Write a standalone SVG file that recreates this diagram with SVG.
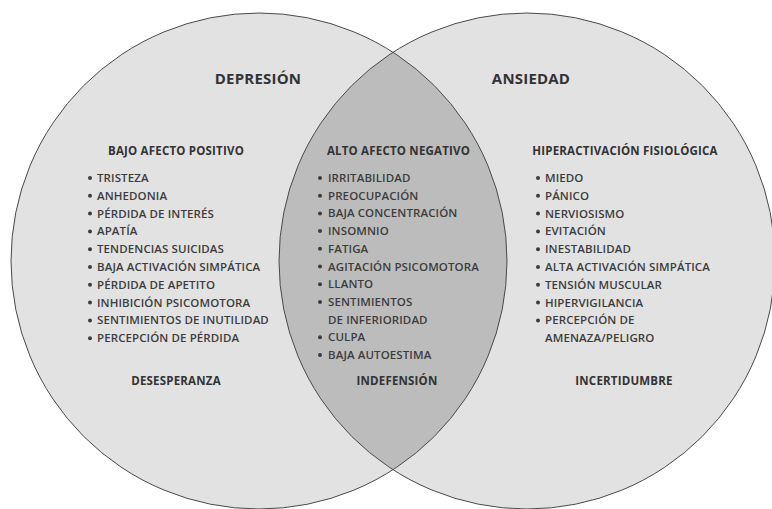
<svg xmlns="http://www.w3.org/2000/svg" width="772" height="509" viewBox="0 0 772 509">
<style>
.circ{fill:#e2e2e2;stroke:none}
.lens{fill:#bcbcbc;stroke:none}
.edge{fill:none;stroke:#4a4a4a;stroke-width:1}
text{font-family:"Open Sans","Noto Sans",sans-serif;fill:#333}
.t{font-size:15px;font-weight:700;letter-spacing:0.2px}
.h{font-size:11.5px;font-weight:700;letter-spacing:0.2px}
.i{font-size:11.5px;font-weight:600;fill:#3c3c3c;letter-spacing:0.1px}
.b{fill:#3c3c3c}
</style>
<g id="circles">
<circle class="circ" cx="259" cy="261" r="248"/>
<circle class="circ" cx="527" cy="261" r="248"/>
<path class="lens" d="M393 52.3 A248 248 0 0 1 393 469.7 A248 248 0 0 1 393 52.3 Z"/>
<circle class="edge" cx="259" cy="261" r="248"/>
<circle class="edge" cx="527" cy="261" r="248"/>
</g>
<g id="depresion">
<text class="t" x="258" y="83.5" text-anchor="middle">DEPRESIÓN</text>
<text class="h" x="176" y="155" text-anchor="middle">BAJO AFECTO POSITIVO</text>
<g class="b"><circle cx="90" cy="178" r="2"/><circle cx="90" cy="195.8" r="2"/><circle cx="90" cy="213.6" r="2"/><circle cx="90" cy="231.4" r="2"/><circle cx="90" cy="249.2" r="2"/><circle cx="90" cy="267" r="2"/><circle cx="90" cy="284.8" r="2"/><circle cx="90" cy="302.6" r="2"/><circle cx="90" cy="320.4" r="2"/><circle cx="90" cy="338.2" r="2"/></g>
<text class="i" x="97" y="182">TRISTEZA</text>
<text class="i" x="97" y="199.8">ANHEDONIA</text>
<text class="i" x="97" y="217.6">PÉRDIDA DE INTERÉS</text>
<text class="i" x="97" y="235.4">APATÍA</text>
<text class="i" x="97" y="253.2">TENDENCIAS SUICIDAS</text>
<text class="i" x="97" y="271">BAJA ACTIVACIÓN SIMPÁTICA</text>
<text class="i" x="97" y="288.8">PÉRDIDA DE APETITO</text>
<text class="i" x="97" y="306.6">INHIBICIÓN PSICOMOTORA</text>
<text class="i" x="97" y="324.4">SENTIMIENTOS DE INUTILIDAD</text>
<text class="i" x="97" y="342.2">PERCEPCIÓN DE PÉRDIDA</text>
<text class="h" x="176" y="385" text-anchor="middle">DESESPERANZA</text>
</g>
<g id="comun">
<text class="h" x="398.5" y="155" text-anchor="middle">ALTO AFECTO NEGATIVO</text>
<g class="b"><circle cx="320" cy="178" r="2"/><circle cx="320" cy="195.7" r="2"/><circle cx="320" cy="213.4" r="2"/><circle cx="320" cy="231.1" r="2"/><circle cx="320" cy="248.8" r="2"/><circle cx="320" cy="266.5" r="2"/><circle cx="320" cy="284.2" r="2"/><circle cx="320" cy="301.9" r="2"/><circle cx="320" cy="337.3" r="2"/><circle cx="320" cy="355" r="2"/></g>
<text class="i" x="328" y="182">IRRITABILIDAD</text>
<text class="i" x="328" y="199.7">PREOCUPACIÓN</text>
<text class="i" x="328" y="217.4">BAJA CONCENTRACIÓN</text>
<text class="i" x="328" y="235.1">INSOMNIO</text>
<text class="i" x="328" y="252.8">FATIGA</text>
<text class="i" x="328" y="270.5">AGITACIÓN PSICOMOTORA</text>
<text class="i" x="328" y="288.2">LLANTO</text>
<text class="i" x="328" y="305.9">SENTIMIENTOS</text>
<text class="i" x="328" y="323.6">DE INFERIORIDAD</text>
<text class="i" x="328" y="341.3">CULPA</text>
<text class="i" x="328" y="359">BAJA AUTOESTIMA</text>
<text class="h" x="397" y="385" text-anchor="middle">INDEFENSIÓN</text>
</g>
<g id="ansiedad">
<text class="t" x="531" y="83.5" text-anchor="middle">ANSIEDAD</text>
<text class="h" x="625" y="155" text-anchor="middle">HIPERACTIVACIÓN FISIOLÓGICA</text>
<g class="b"><circle cx="538" cy="178" r="2"/><circle cx="538" cy="195.8" r="2"/><circle cx="538" cy="213.6" r="2"/><circle cx="538" cy="231.4" r="2"/><circle cx="538" cy="249.2" r="2"/><circle cx="538" cy="267" r="2"/><circle cx="538" cy="284.8" r="2"/><circle cx="538" cy="302.6" r="2"/><circle cx="538" cy="320.4" r="2"/></g>
<text class="i" x="545" y="182">MIEDO</text>
<text class="i" x="545" y="199.8">PÁNICO</text>
<text class="i" x="545" y="217.6">NERVIOSISMO</text>
<text class="i" x="545" y="235.4">EVITACIÓN</text>
<text class="i" x="545" y="253.2">INESTABILIDAD</text>
<text class="i" x="545" y="271">ALTA ACTIVACIÓN SIMPÁTICA</text>
<text class="i" x="545" y="288.8">TENSIÓN MUSCULAR</text>
<text class="i" x="545" y="306.6">HIPERVIGILANCIA</text>
<text class="i" x="545" y="324.4">PERCEPCIÓN DE</text>
<text class="i" x="545" y="342.2">AMENAZA/PELIGRO</text>
<text class="h" x="624" y="385" text-anchor="middle">INCERTIDUMBRE</text>
</g>
</svg>
